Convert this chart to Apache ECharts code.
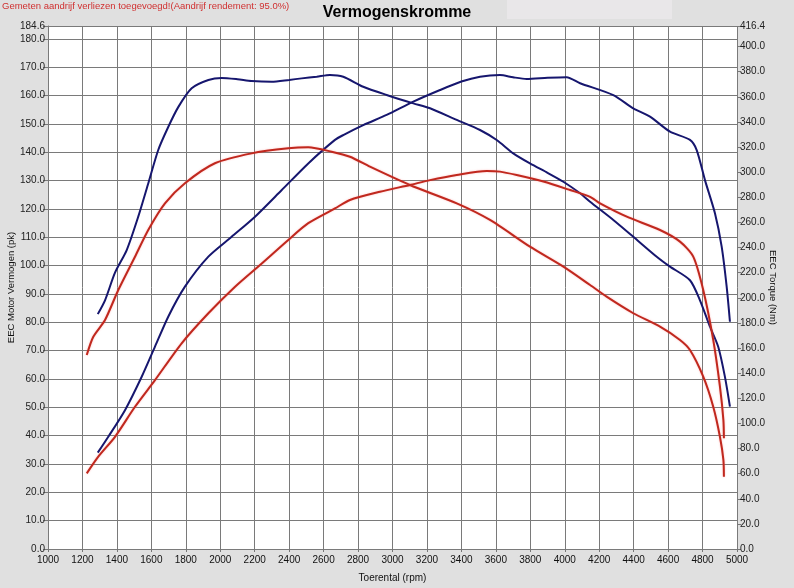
<!DOCTYPE html>
<html>
<head>
<meta charset="utf-8">
<script src="https://cdn.jsdelivr.net/npm/echarts@6/dist/echarts.min.js"></script>
<style>
html,body{margin:0;padding:0;background:#e0e0e0;}
#chart{width:794px;height:588px;}
</style>
</head>
<body>
<div id="chart"></div>
<script>
// Blue torque (Nm, right axis)
const blueTorqueRpm = [1289,1331,1389,1457,1524,1582,1640,1698,1757,1834,1931,2008,2100,2182,2298,2400,2473,2560,2637,2714,2830,2966,3121,3218,3373,3508,3605,3701,3798,3900,3992,4089,4147,4282,4398,4534,4611,4727,4785,4843,4891,4930,4959];
const blueTorqueNm  = [187,198,220,238,264.6,291,317.7,336,352,366.8,373.4,375,374,372.6,372,373.5,374.7,376,377.4,376,368,361.5,354.8,350.9,341.6,333.6,325.6,315,307,299.5,292.4,283.2,276.5,262,248.6,232.7,224.8,214,198,177,161,137,113.3];
// Blue power (pk, left axis)
const bluePowerRpm = [1289,1350,1447,1544,1621,1698,1795,1931,2066,2202,2357,2511,2666,2714,2830,2966,3121,3276,3400,3508,3624,3700,3779,3900,4011,4089,4282,4398,4495,4611,4727,4766,4814,4872,4911,4940,4959];
const bluePowerPk  = [34.0,39.6,49,60.8,71.4,82,92.6,103.2,110.2,117.3,126.7,136.1,144.4,146.1,149.6,153.2,157.9,162,165,166.7,167.3,166.5,165.9,166.3,166.5,164.4,160.2,155.5,152.6,147.3,144.4,140.8,130.2,118.5,106.7,92.6,80.2];
// Red torque (Nm, right axis)
const redTorqueRpm = [1225,1263,1331,1408,1505,1582,1679,1795,1969,2182,2395,2511,2647,2753,2869,3101,3373,3566,3798,3992,4147,4243,4398,4553,4669,4727,4804,4862,4901,4921,4924];
const redTorqueNm  = [154.5,169,182.3,206.2,232.7,254,275.2,291.2,307.1,315,319,319.8,316.3,312.3,304.4,289.8,275.2,262,240.7,224.8,210.2,200.9,187.7,177,166.4,158.4,137.2,113.3,89.4,70.9,57.6];
// Red power (pk, left axis)
const redPowerRpm = [1225,1292,1389,1505,1621,1776,1931,2086,2241,2395,2511,2666,2753,2927,3101,3218,3373,3547,3624,3721,3876,4031,4147,4205,4360,4553,4669,4746,4804,4862,4901,4921,4924];
const redPowerPk  = [26.7,32.6,39.6,50.2,59.6,72.6,83.2,92.6,100.8,109.1,115,120.2,123.2,126.1,128.5,130.2,132,133.4,133.2,132,129.7,126.7,124.3,122,117.3,112.6,108.5,103.2,91.4,73.8,57.3,45.5,39.1];

const titleText = 'Vermogenskromme';
const noteText = 'Gemeten aandrijf verliezen toegevoegd!(Aandrijf rendement: 95.0%)';
const xName = 'Toerental (rpm)';
const yLeftName = 'EEC Motor Vermogen (pk)';
const yRightName = 'EEC Torque (Nm)';

function zip(a,b){return a.map((v,i)=>[v,b[i]]);}

const FONT = 'Liberation Sans, Arial, sans-serif';
const BLUE = '#16166e';
const RED = '#c0281e';

const chart = echarts.init(document.getElementById('chart'), null, {renderer:'canvas'});
chart.setOption({
  backgroundColor:'#e0e0e0',
  animation:false,
  title:{text:titleText,left:'center',top:0,textStyle:{fontFamily:FONT,fontSize:16,fontWeight:'bold',color:'#000'}},
  graphic:[
    {type:'rect',z:-1,shape:{x:507,y:0,width:165,height:19},style:{fill:'#e9e7e9'}},
    {type:'text',left:2,top:1,style:{text:noteText,fontFamily:FONT,fontSize:9.5,fill:'#d03030'}}
  ],
  grid:{left:48,right:57,top:26,bottom:39,show:true,backgroundColor:'#ffffff',borderWidth:0,containLabel:false,outerBoundsMode:'none'},
  xAxis:{type:'value',min:1000,max:5000,interval:200,
    name:xName,nameLocation:'middle',nameGap:24,nameMoveOverlap:false,nameTextStyle:{fontFamily:FONT,fontSize:10,color:'#111'},
    axisLine:{show:false},
    axisTick:{show:true,length:3,lineStyle:{color:'#777'}},
    axisLabel:{fontFamily:FONT,fontSize:10,color:'#111',margin:6,formatter:v=>String(v)},
    splitLine:{show:true,lineStyle:{color:'#7a7a7a',width:1}}},
  yAxis:[
    {type:'value',min:0,max:184.6,interval:10,position:'left',
     name:yLeftName,nameLocation:'middle',nameGap:32,nameMoveOverlap:false,nameTextStyle:{fontFamily:FONT,fontSize:9.5,color:'#111'},
     axisLine:{show:true,lineStyle:{color:'#7a7a7a'}},
     axisTick:{show:true,length:5,lineStyle:{color:'#777'}},
     axisLabel:{fontFamily:FONT,fontSize:10,color:'#222',margin:3,formatter:v=>v.toFixed(1)},
     splitLine:{show:true,lineStyle:{color:'#7a7a7a',width:1}}},
    {type:'value',min:0,max:416.4,interval:20,position:'right',
     name:yRightName,nameLocation:'middle',nameGap:31,nameRotate:-90,nameMoveOverlap:false,nameTextStyle:{fontFamily:FONT,fontSize:9.5,color:'#111'},
     axisLine:{show:false},
     axisTick:{show:true,length:4,lineStyle:{color:'#777'}},
     axisLabel:{fontFamily:FONT,fontSize:10,color:'#222',margin:3,formatter:v=>v.toFixed(1)},
     splitLine:{show:false}}
  ],
  series:[
    {type:'line',name:'blueTorque',yAxisIndex:1,data:zip(blueTorqueRpm,blueTorqueNm),showSymbol:false,smooth:0.25,lineStyle:{color:BLUE,width:2}},
    {type:'line',name:'bluePower',yAxisIndex:0,data:zip(bluePowerRpm,bluePowerPk),showSymbol:false,smooth:0.25,lineStyle:{color:BLUE,width:2}},
    {type:'line',name:'redTorque',yAxisIndex:1,data:zip(redTorqueRpm,redTorqueNm),showSymbol:false,smooth:0.25,lineStyle:{color:RED,width:2,shadowColor:'rgba(255,110,110,0.45)',shadowBlur:2}},
    {type:'line',name:'redPower',yAxisIndex:0,data:zip(redPowerRpm,redPowerPk),showSymbol:false,smooth:0.25,lineStyle:{color:RED,width:2,shadowColor:'rgba(255,110,110,0.45)',shadowBlur:2}}
  ]
});
</script>
</body>
</html>
